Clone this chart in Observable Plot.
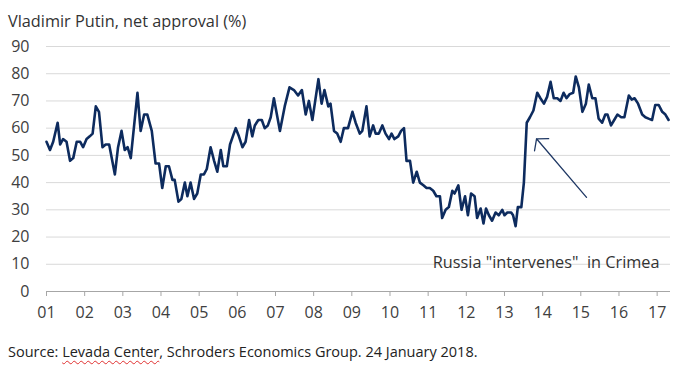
<!DOCTYPE html>
<html><head><meta charset="utf-8">
<script src="https://cdn.jsdelivr.net/npm/d3@7"></script>
<script src="https://cdn.jsdelivr.net/npm/@observablehq/plot@0.6"></script>
<style>
body{margin:0;background:#fff;font-family:"Open Sans",sans-serif;}
#wrap{position:relative;width:700px;height:370px;overflow:hidden;background:#fff;}
#title{position:absolute;left:8px;top:11px;font-size:16.3px;color:#333;line-height:20px;white-space:nowrap;}
#chart{position:absolute;left:0;top:30px;}
#chart text{white-space:pre;}
#source{position:absolute;left:8px;top:343px;font-size:14.5px;color:#222;line-height:18px;white-space:nowrap;}
.sp{text-decoration:underline wavy #e03030;text-decoration-thickness:1px;text-underline-offset:3px;}
</style></head>
<body>
<div id="wrap">
<div id="title">Vladimir Putin, net approval (%)</div>
<div id="chart"></div>
<div id="source">Source: <span class="sp">Levada Center</span>, Schroders Economics Group. 24 January 2018.</div>
</div>
<script>
// months since January 2001
const months = [0,1.1,2.1,3.5,4.3,5.2,6.3,7.4,8.4,9.5,10.6,11.5,12.6,13.6,14.5,15.5,16.5,17.6,18.6,19.7,21.5,22.5,23.6,24.6,25.5,26.5,28.6,29.6,30.7,31.7,33.1,34.3,35.4,36.4,37.5,38.5,39.6,40.3,41.5,42.4,43.5,44.3,45.3,46.4,47.4,48.5,49.5,50.4,51.6,52.7,53.7,54.8,55.6,56.7,57.7,59.5,60.5,61.6,62.6,63.7,64.7,65.5,66.6,67.7,68.6,69.6,70.5,71.5,73.4,74.9,76.4,77.8,79.1,80.3,81.5,82.5,83.6,85.5,86.5,87.4,88.6,89.3,90.4,91.4,92.5,93.5,94.8,96.2,97.2,98.5,99.3,100.6,101.6,102.7,103.5,104.5,105.6,106.6,107.7,108.5,109.4,110.6,111.5,112.4,113.2,114.3,115.3,116.4,117.4,118.5,119.5,120.5,121.6,122.6,123.7,124.4,125.5,126.5,127.6,128.3,129.5,130.5,131.6,132.5,133.5,134.6,135.4,136.5,137.4,138.2,139.1,140.1,141.2,142.2,143.3,144.0,144.9,146.1,146.7,147.5,148.2,149.3,150.1,151.0,152.0,153.1,154.3,155.3,156.4,157.4,158.5,159.5,160.6,161.6,162.6,163.5,164.5,165.6,166.4,167.4,168.5,169.6,170.5,171.6,172.6,173.6,174.7,175.7,176.4,177.5,178.5,179.5,180.7,181.7,183.1,184.0,184.9,186.0,187.3,188.3,189.3,190.4,191.4,192.5,193.6,194.6,195.6];
const netApproval = [55,52,55,62,54,56,55,48,49,55,55,53,56,57,58,68,66,53,54,54,43,53,59,52,53,49,73,59,65,65,59,47,47,38,46,46,41,41,33,34,40,35,40,34,36,43,43,45,53,48,44,52,46,46,54,60,57,53,55,63,57,61,63,63,60,61,64,71,59,68,75,74,72,74,65,70,63,78,69,74,68,69,59,58,55,60,60,66,62,58,59,68,57,61,58,58,61,58,56,58,56,57,59,60,48,48,40,44,40,39,38,38,37,35,35,27,30,31,37,36,39,30,35,28,36,35,27,30.5,25,30.5,28,26,29,28,30,28,29,29,28,24,31,31,40,62,64,66.5,73,71,69,71.5,77,71,71,70,73,71,72.5,73,79,75,66,69,76,71,71,63.5,62,65,65,61,63,65,64,64,72,70.5,71,69,65,64,63.5,63,68.5,68.5,66,65,63];

const yTicks = [0,10,20,30,40,50,60,70,80,90];
const yearTicks = [2001,2002,2003,2004,2005,2006,2007,2008,2009,2010,2011,2012,2013,2014,2015,2016,2017];
const yearLabels = ["01","02","03","04","05","06","07","08","09","10","11","12","13","14","15","16","17"];

const noteText = ['Russia "intervenes"  in Crimea'];
const noteAt = [2011.12, 10.4];
const arrowFrom = [2015.15, 34.6];
const arrowTo = [2013.84, 56.1];

const data = months.map((m, i) => ({t: 2001 + m / 12, v: netApproval[i]}));

const chart = Plot.plot({
  width: 700,
  height: 310,
  marginTop: 16,
  marginBottom: 49,
  marginLeft: 46,
  marginRight: 30,
  x: {domain: [2001, 2017.35], label: null},
  y: {domain: [0, 90], label: null},
  style: {fontFamily: '"Open Sans", sans-serif', fontSize: "16px", color: "#404040", background: "white"},
  marks: [
    Plot.ruleY(yTicks.filter(d => d > 0), {stroke: "#d9d9d9", strokeWidth: 1}),
    Plot.ruleY([0], {stroke: "#a6a6a6", strokeWidth: 1}),
    Plot.axisY(yTicks, {tickSize: 0, tickPadding: 17, fill: "#404040", label: null}),
    Plot.axisX(yearTicks, {tickSize: 5, tickPadding: 10, stroke: "#a6a6a6", fill: "#404040", label: null,
      tickFormat: d => yearLabels[yearTicks.indexOf(d)]}),
    Plot.text(noteText, {x: () => noteAt[0], y: () => noteAt[1], text: d => d, textAnchor: "start", fontSize: 16.3, fill: "#333"}),
    Plot.arrow([{x1: arrowFrom[0], y1: arrowFrom[1], x2: arrowTo[0], y2: arrowTo[1]}],
      {x1: "x1", y1: "y1", x2: "x2", y2: "y2", stroke: "#1f3864", strokeWidth: 1.3, headAngle: 100, headLength: 14}),
    Plot.line(data, {x: "t", y: "v", stroke: "#0d2b5e", strokeWidth: 2.6, strokeLinejoin: "round", strokeLinecap: "round"})
  ]
});
document.getElementById("chart").appendChild(chart);
</script>
</body></html>
